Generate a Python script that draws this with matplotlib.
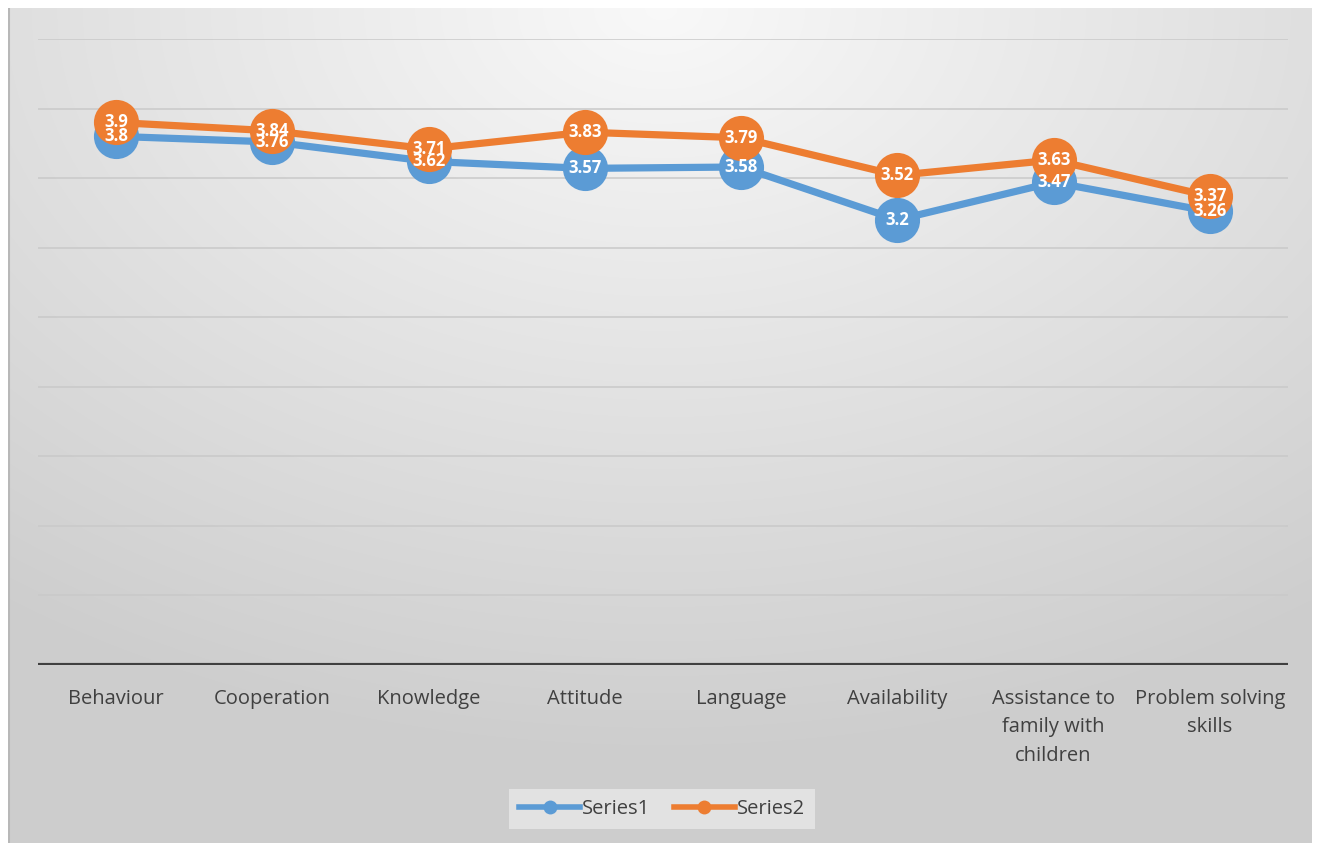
import numpy as np
import matplotlib
matplotlib.use("Agg")
import matplotlib.pyplot as plt
from matplotlib.lines import Line2D

categories = ["Behaviour", "Cooperation", "Knowledge", "Attitude", "Language",
              "Availability", "Assistance to\nfamily with\nchildren", "Problem solving\nskills"]
series1 = [3.8, 3.76, 3.62, 3.57, 3.58, 3.2, 3.47, 3.26]
series2 = [3.9, 3.84, 3.71, 3.83, 3.79, 3.52, 3.63, 3.37]
labels1 = ["3.8", "3.76", "3.62", "3.57", "3.58", "3.2", "3.47", "3.26"]
labels2 = ["3.9", "3.84", "3.71", "3.83", "3.79", "3.52", "3.63", "3.37"]

plt.rcParams['font.family'] = ['Open Sans', 'DejaVu Sans']

W, H = 1318, 843
fig = plt.figure(figsize=(W / 100, H / 100), dpi=100)
fig.patch.set_facecolor("white")

# background radial gradient panel
bg = fig.add_axes([8 / W, 0, (1312 - 8) / W, (843 - 8) / H])
bg.set_axis_off()
ny, nx = 300, 470
yy, xx = np.mgrid[0:ny, 0:nx]
cx, cy = nx * 0.5, 0
d = np.sqrt(((xx - cx) / nx) ** 2 + ((yy - cy) / ny) ** 2 * 0.9)
d = np.clip(d / 0.85, 0, 1)
val = 0.975 - 0.17 * d
img = np.dstack([val, val, val])
bg.imshow(img, aspect="auto", extent=[0, 1, 0, 1], interpolation="bicubic")
bg.set_xlim(0, 1)
bg.set_ylim(0, 1)
bg.plot([0.001, 0.001], [0, 1], color="#b8b8b8", lw=1.5, transform=bg.transAxes)

ax = fig.add_axes([38 / W, 178 / H, 1250 / W, 626 / H])
ax.patch.set_alpha(0)
x = np.arange(len(categories))
ax.set_xlim(-0.5, len(categories) - 0.5)
ax.set_ylim(0, 4.5)

for gy in np.arange(0.5, 4.51, 0.5):
    ax.axhline(gy, color="#c9c9c9", lw=1.1, zorder=1)
ax.axhline(0, color="#404040", lw=3, zorder=2)

ax.plot(x, series1, color="#5B9BD5", lw=5.2, marker="o", markersize=32.5,
        markeredgewidth=0, zorder=3, solid_capstyle="round")
ax.plot(x, series2, color="#ED7D31", lw=5.2, marker="o", markersize=32.5,
        markeredgewidth=0, zorder=4, solid_capstyle="round")

for xi, v, t in zip(x, series2, labels2):
    ax.text(xi, v, t, color="white", fontsize=12, fontweight="bold",
            ha="center", va="center", zorder=6)
for xi, v, t in zip(x, series1, labels1):
    ax.text(xi, v, t, color="white", fontsize=12, fontweight="bold",
            ha="center", va="center", zorder=6)

ax.set_xticks(x)
ax.set_xticklabels(categories, fontsize=14.5, color="#404040", linespacing=1.58,
                   va="top")
ax.tick_params(axis="x", length=0, pad=17)
ax.set_yticks([])
for s in ax.spines.values():
    s.set_visible(False)

handles = [
    Line2D([0], [0], color="#5B9BD5", lw=4, marker="o", markersize=10, markeredgewidth=0),
    Line2D([0], [0], color="#ED7D31", lw=4, marker="o", markersize=10, markeredgewidth=0),
]
leg = fig.legend(handles, ["Series1", "Series2"], loc="center",
                 bbox_to_anchor=(662 / W, 1 - 809 / H), ncol=2, frameon=True,
                 fontsize=14.5, handlelength=3.0, columnspacing=1.2,
                 handletextpad=0.1, borderpad=0.5, fancybox=False)
leg.get_frame().set_facecolor("#e2e2e2")
leg.get_frame().set_edgecolor("none")
leg.get_frame().set_alpha(1)
for t in leg.get_texts():
    t.set_color("#404040")

fig.savefig("out.png", dpi=100)
